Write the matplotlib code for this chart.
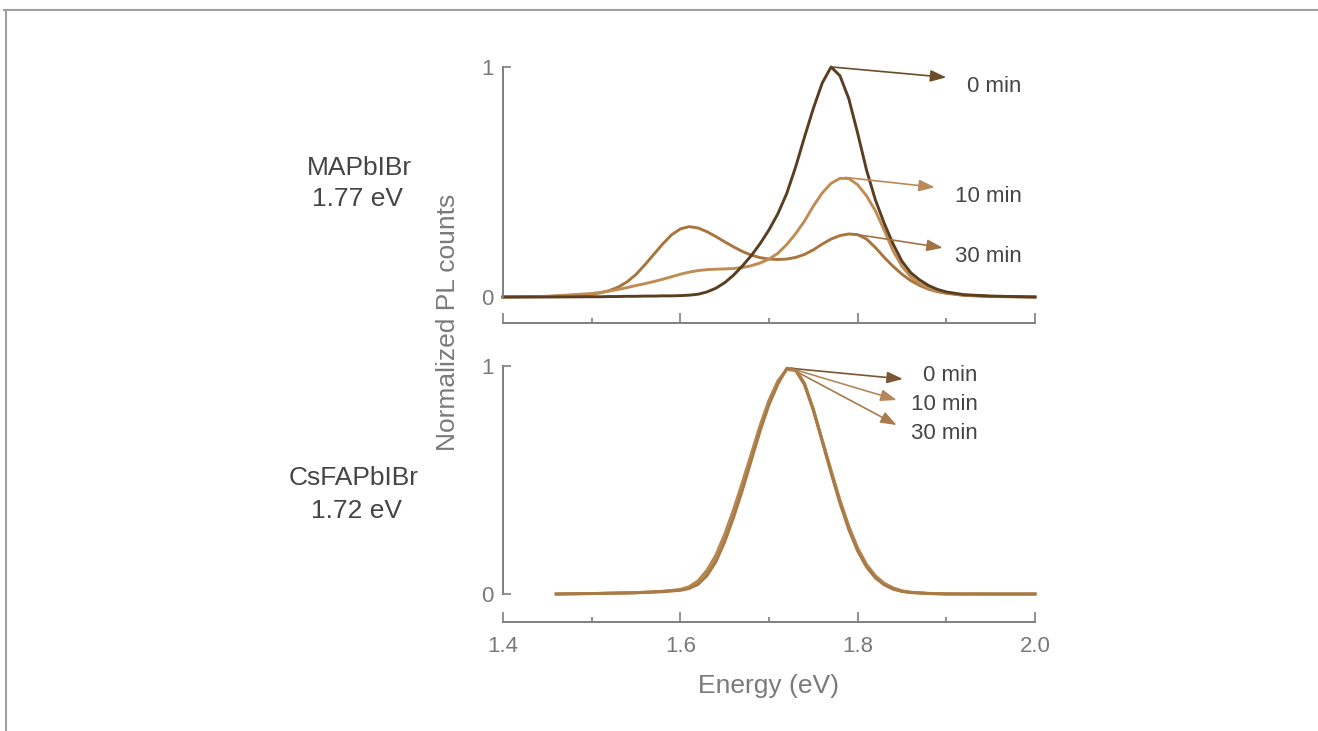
import matplotlib
matplotlib.use("Agg")
import matplotlib.pyplot as plt
from matplotlib.lines import Line2D

plt.rcParams["font.family"] = ["Liberation Sans", "DejaVu Sans"]

# --- data ---
times = ["0 min", "10 min", "30 min"]

# MAPbIBr (top panel)
energy_top = [1.40, 1.45, 1.50, 1.51, 1.52, 1.53, 1.54, 1.55, 1.56, 1.57,
              1.58, 1.59, 1.60, 1.61, 1.62, 1.63, 1.64, 1.65, 1.66, 1.67,
              1.68, 1.69, 1.70, 1.71, 1.72, 1.73, 1.74, 1.75, 1.76, 1.77,
              1.78, 1.79, 1.80, 1.81, 1.82, 1.83, 1.84, 1.85, 1.86, 1.87,
              1.88, 1.89, 1.90, 1.92, 1.95, 2.00]
mapbibr_0 = [0.000, 0.000, 0.001, 0.001, 0.002, 0.002, 0.003, 0.003, 0.004, 0.004,
             0.005, 0.005, 0.006, 0.008, 0.012, 0.022, 0.038, 0.062, 0.095, 0.135,
             0.180, 0.232, 0.292, 0.362, 0.450, 0.565, 0.695, 0.820, 0.930, 1.000,
             0.962, 0.862, 0.712, 0.552, 0.422, 0.320, 0.230, 0.155, 0.105, 0.074,
             0.050, 0.033, 0.022, 0.010, 0.004, 0.000]
mapbibr_10 = [0.000, 0.003, 0.015, 0.020, 0.026, 0.033, 0.041, 0.050, 0.058, 0.067,
              0.077, 0.088, 0.099, 0.108, 0.115, 0.119, 0.121, 0.122, 0.124, 0.128,
              0.136, 0.148, 0.165, 0.190, 0.228, 0.275, 0.330, 0.395, 0.452, 0.494,
              0.516, 0.515, 0.488, 0.440, 0.375, 0.290, 0.200, 0.133, 0.088, 0.058,
              0.040, 0.027, 0.018, 0.008, 0.003, 0.000]
mapbibr_30 = [0.000, 0.002, 0.012, 0.018, 0.028, 0.043, 0.066, 0.098, 0.140, 0.185,
              0.230, 0.270, 0.296, 0.306, 0.300, 0.284, 0.263, 0.240, 0.218, 0.198,
              0.182, 0.171, 0.165, 0.163, 0.165, 0.172, 0.185, 0.205, 0.230, 0.252,
              0.267, 0.274, 0.271, 0.252, 0.215, 0.172, 0.133, 0.099, 0.071, 0.050,
              0.034, 0.023, 0.016, 0.007, 0.002, 0.000]

# CsFAPbIBr (bottom panel)
energy_bot = [1.46, 1.50, 1.55, 1.58, 1.60, 1.61, 1.62, 1.63, 1.64, 1.65,
              1.66, 1.67, 1.68, 1.69, 1.70, 1.71, 1.72, 1.73, 1.74, 1.75,
              1.76, 1.77, 1.78, 1.79, 1.80, 1.81, 1.82, 1.83, 1.84, 1.85,
              1.86, 1.88, 1.90, 1.95, 2.00]
csfa_0 = [0.000, 0.002, 0.005, 0.010, 0.016, 0.024, 0.042, 0.080, 0.140, 0.228,
          0.335, 0.455, 0.585, 0.715, 0.830, 0.920, 0.990, 0.985, 0.920, 0.805,
          0.668, 0.530, 0.398, 0.282, 0.188, 0.118, 0.070, 0.040, 0.021, 0.011,
          0.006, 0.002, 0.000, 0.000, 0.000]
csfa_10 = [0.000, 0.002, 0.006, 0.011, 0.018, 0.028, 0.050, 0.092, 0.155, 0.245,
           0.352, 0.472, 0.600, 0.728, 0.840, 0.928, 0.985, 0.985, 0.925, 0.812,
           0.676, 0.540, 0.408, 0.292, 0.196, 0.124, 0.075, 0.043, 0.024, 0.012,
           0.007, 0.002, 0.000, 0.000, 0.000]
csfa_30 = [0.000, 0.002, 0.006, 0.012, 0.020, 0.032, 0.058, 0.104, 0.170, 0.262,
           0.370, 0.490, 0.615, 0.740, 0.850, 0.935, 0.985, 0.980, 0.918, 0.808,
           0.675, 0.542, 0.412, 0.298, 0.202, 0.130, 0.080, 0.047, 0.027, 0.014,
           0.008, 0.003, 0.001, 0.000, 0.000]

top_colors = ["#5a3e20", "#c08c55", "#a8753f"]
top_arrow_colors = ["#6e4d2a", "#b98a58", "#a27242"]
bot_colors = ["#a87a45", "#b98a52", "#b48550"]
bot_arrow_colors = ["#7a5732", "#b5865a", "#a87a4c"]

axis_gray = "#7f7f7f"
label_gray = "#7a7a7a"
text_dark = "#454545"
arrow_style = "-|>,head_length=0.6,head_width=0.22"

W, H = 1318, 731
fig = plt.figure(figsize=(W / 100, H / 100), dpi=100)
fig.patch.set_facecolor("white")

# axes placed from pixel positions of the reference
x0, x1 = 503, 1035
ax_top = fig.add_axes([x0 / W, (H - 308.5) / H, (x1 - x0) / W, 253 / H])
ax_bot = fig.add_axes([x0 / W, (H - 605.4) / H, (x1 - x0) / W, 250.8 / H])


def style_axis(ax, outward_pt, show_xlabels):
    ax.set_xlim(1.4, 2.0)
    ax.set_ylim(-0.05, 1.05)
    ax.patch.set_alpha(0)
    for s in ["top", "right"]:
        ax.spines[s].set_visible(False)
    ax.spines["left"].set_bounds(0, 1)
    ax.spines["bottom"].set_bounds(1.4, 2.0)
    ax.spines["bottom"].set_position(("outward", outward_pt))
    for s in ["left", "bottom"]:
        ax.spines[s].set_color(axis_gray)
        ax.spines[s].set_linewidth(1.4)
    ax.set_xticks([1.4, 1.6, 1.8, 2.0])
    ax.set_xticks([1.5, 1.7, 1.9], minor=True)
    ax.set_yticks([0, 1])
    ax.set_yticklabels(["0", "1"])
    ax.tick_params(axis="x", which="major", direction="in", length=7.2, width=1.2,
                   color=axis_gray, labelsize=16, labelcolor=label_gray, pad=10,
                   labelbottom=show_xlabels)
    ax.tick_params(axis="x", which="minor", direction="in", length=3.6, width=1.2,
                   color=axis_gray)
    ax.tick_params(axis="y", direction="in", length=5.8, width=1.2,
                   color=axis_gray, labelsize=16, labelcolor=label_gray, pad=7)
    if show_xlabels:
        ax.set_xticklabels(["1.4", "1.6", "1.8", "2.0"])


style_axis(ax_top, 10.4, False)
style_axis(ax_bot, 12.0, True)

# top panel: MAPbIBr
top_series = [mapbibr_0, mapbibr_10, mapbibr_30]
for vals, c in zip(top_series[::-1], top_colors[::-1]):
    ax_top.plot(energy_top, vals, color=c, lw=2.1, clip_on=False, solid_joinstyle="round")

top_arrows = [((1.771, 1.0), (1.900, 0.955)),
              ((1.786, 0.52), (1.887, 0.477)),
              ((1.795, 0.274), (1.896, 0.214))]
top_label_y = [0.917, 0.436, 0.175]
for (tail, head), c, lab, ly in zip(top_arrows, top_arrow_colors, times, top_label_y):
    ax_top.annotate("", xy=head, xytext=tail, annotation_clip=False,
                    arrowprops=dict(arrowstyle=arrow_style, color=c, lw=1.2,
                                    mutation_scale=16, shrinkA=0, shrinkB=0))
    ax_top.text(1.985, ly, lab, ha="right", va="center", fontsize=16, color=text_dark)

# bottom panel: CsFAPbIBr
bot_series = [csfa_0, csfa_10, csfa_30]
for vals, c in zip(bot_series[::-1], bot_colors[::-1]):
    ax_bot.plot(energy_bot, vals, color=c, lw=2.1, clip_on=False, solid_joinstyle="round")

bot_heads = [(1.851, 0.943), (1.844, 0.851), (1.844, 0.741)]
bot_label_y = [0.957, 0.829, 0.702]
for head, c, lab, ly in zip(bot_heads, bot_arrow_colors, times, bot_label_y):
    ax_bot.annotate("", xy=head, xytext=(1.724, 0.99), annotation_clip=False,
                    arrowprops=dict(arrowstyle=arrow_style, color=c, lw=1.2,
                                    mutation_scale=16, shrinkA=0, shrinkB=0))
    ax_bot.text(1.9355, ly, lab, ha="right", va="center", fontsize=16, color=text_dark)

ax_bot.set_xlabel("Energy (eV)", fontsize=19, color=label_gray, labelpad=12)

# shared y label and sample names
fig.text(448 / W, 1 - 322 / H, "Normalized PL counts", rotation=90, ha="center",
         va="center", fontsize=19, color=label_gray)
fig.text(359 / W, 1 - 168 / H, "MAPbIBr", ha="center", va="center", fontsize=19, color=text_dark)
fig.text(358 / W, 1 - 199 / H, "1.77 eV", ha="center", va="center", fontsize=19, color=text_dark)
fig.text(354 / W, 1 - 478 / H, "CsFAPbIBr", ha="center", va="center", fontsize=19, color=text_dark)
fig.text(357 / W, 1 - 511 / H, "1.72 eV", ha="center", va="center", fontsize=19, color=text_dark)

# thin frame along top and left edge
fig.add_artist(Line2D([4 / W, 1.0], [1 - 10 / H, 1 - 10 / H], transform=fig.transFigure,
                      color="#a0a0a0", lw=1.5))
fig.add_artist(Line2D([6 / W, 6 / W], [1 - 10 / H, 0.0], transform=fig.transFigure,
                      color="#a0a0a0", lw=1.5))

fig.savefig("out.png", dpi=100)
